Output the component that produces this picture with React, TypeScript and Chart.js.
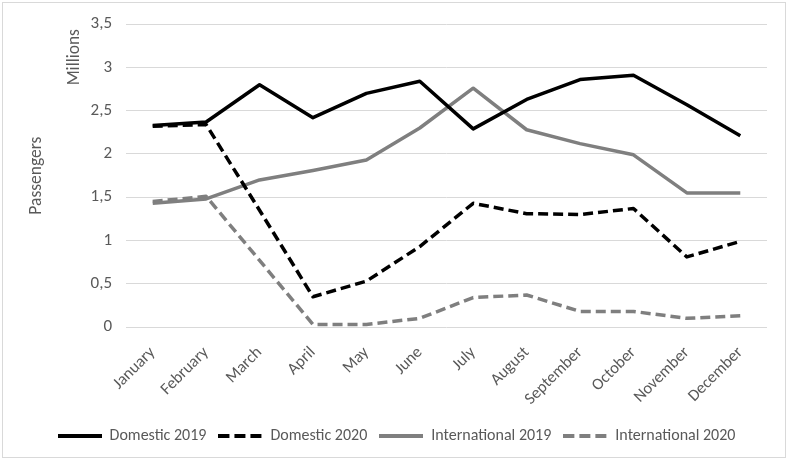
import React, { useEffect, useRef } from "react";
import { Chart, registerables } from "chart.js";

Chart.register(...registerables);

const months = [
  "January", "February", "March", "April", "May", "June",
  "July", "August", "September", "October", "November", "December",
];
const domestic2019 = [2.33, 2.37, 2.8, 2.42, 2.7, 2.84, 2.29, 2.63, 2.86, 2.91, 2.57, 2.21];
const domestic2020 = [2.32, 2.34, 1.35, 0.35, 0.53, 0.93, 1.43, 1.31, 1.3, 1.37, 0.81, 0.99];
const international2019 = [1.43, 1.48, 1.7, 1.81, 1.93, 2.3, 2.76, 2.28, 2.12, 1.99, 1.55, 1.55];
const international2020 = [1.45, 1.51, 0.77, 0.03, 0.03, 0.1, 0.34, 0.37, 0.18, 0.18, 0.1, 0.13];
const seriesNames = ["Domestic 2019", "Domestic 2020", "International 2019", "International 2020"];
const yTitle = "Passengers";
const yUnit = "Millions";

const FONT = "Carlito, Lato, 'Open Sans', sans-serif";
const TEXT = "#595959";
const SAMPLE_W = 44;

function makeSample(color: string, dash: number[]) {
  const c = document.createElement("canvas");
  c.width = SAMPLE_W;
  c.height = 6;
  const g = c.getContext("2d")!;
  g.strokeStyle = color;
  g.lineWidth = 4;
  g.setLineDash(dash);
  g.beginPath();
  g.moveTo(0, 3);
  g.lineTo(SAMPLE_W, 3);
  g.stroke();
  return c;
}

const titlesPlugin = {
  id: "axisTitles",
  afterDraw(chart: any) {
    const { ctx, chartArea } = chart;
    const draw = (text: string, x: number, y: number) => {
      ctx.save();
      ctx.fillStyle = TEXT;
      ctx.font = `17.5px ${FONT}`;
      ctx.textAlign = "center";
      ctx.textBaseline = "middle";
      ctx.translate(x, y);
      ctx.rotate(-Math.PI / 2);
      ctx.fillText(text, 0, 0);
      ctx.restore();
    };
    draw(yTitle, 37, (chartArea.top + chartArea.bottom) / 2);
    draw(yUnit, 75, chartArea.top + 33);
  },
};

export default function App() {
  const ref = useRef<HTMLCanvasElement | null>(null);
  useEffect(() => {
    if (!ref.current) return;
    const mk = (label: string, data: number[], color: string, dash: number[], sampleDash: number[]) => ({
      label,
      data,
      borderColor: color,
      backgroundColor: color,
      borderWidth: 3.5,
      borderDash: dash,
      borderJoinStyle: "round" as const,
      borderCapStyle: "butt" as const,
      pointRadius: 0,
      pointStyle: makeSample(color, sampleDash),
      tension: 0,
      fill: false,
    });
    const chart = new Chart(ref.current, {
      type: "line",
      data: {
        labels: months,
        datasets: [
          mk(seriesNames[0], domestic2019, "#000000", [], []),
          mk(seriesNames[1], domestic2020, "#000000", [10, 5], [11, 5]),
          mk(seriesNames[2], international2019, "#7f7f7f", [], []),
          mk(seriesNames[3], international2020, "#7f7f7f", [10, 5], [11, 5]),
        ],
      },
      options: {
        animation: false,
        responsive: true,
        maintainAspectRatio: false,
        layout: { padding: { left: 26, right: 23, top: 22, bottom: 8 } },
        plugins: {
          tooltip: { enabled: false },
          legend: {
            position: "bottom",
            labels: {
              usePointStyle: true,
              pointStyleWidth: SAMPLE_W,
              color: TEXT,
              font: { family: FONT, size: 16 },
              padding: 12,
            },
          },
        },
        scales: {
          x: {
            offset: true,
            grid: { display: false },
            border: { display: false },
            ticks: {
              minRotation: 45,
              maxRotation: 45,
              color: TEXT,
              font: { family: FONT, size: 16.5 },
              padding: 8,
            },
            afterFit(s: any) {
              s.height = 89;
            },
          },
          y: {
            min: 0,
            max: 3.5,
            ticks: {
              stepSize: 0.5,
              color: TEXT,
              font: { family: FONT, size: 17 },
              padding: 14,
              callback: (v: any) => String(v).replace(".", ","),
            },
            grid: { color: "#d9d9d9", lineWidth: 1, drawTicks: false },
            border: { display: false },
            afterFit(s: any) {
              s.width = 100;
            },
          },
        },
      },
      plugins: [titlesPlugin],
    });
    return () => chart.destroy();
  }, []);
  return (
    <div style={{ position: "absolute", left: 0, top: 0, width: 790, height: 462, background: "#fff" }}>
      <div
        style={{
          position: "absolute",
          left: 2,
          top: 2,
          width: 784,
          height: 456,
          border: "1px solid #d9d9d9",
          boxSizing: "border-box",
        }}
      />
      <div style={{ position: "absolute", left: 0, top: 0, width: 790, height: 462 }}>
        <canvas ref={ref} />
      </div>
    </div>
  );
}
